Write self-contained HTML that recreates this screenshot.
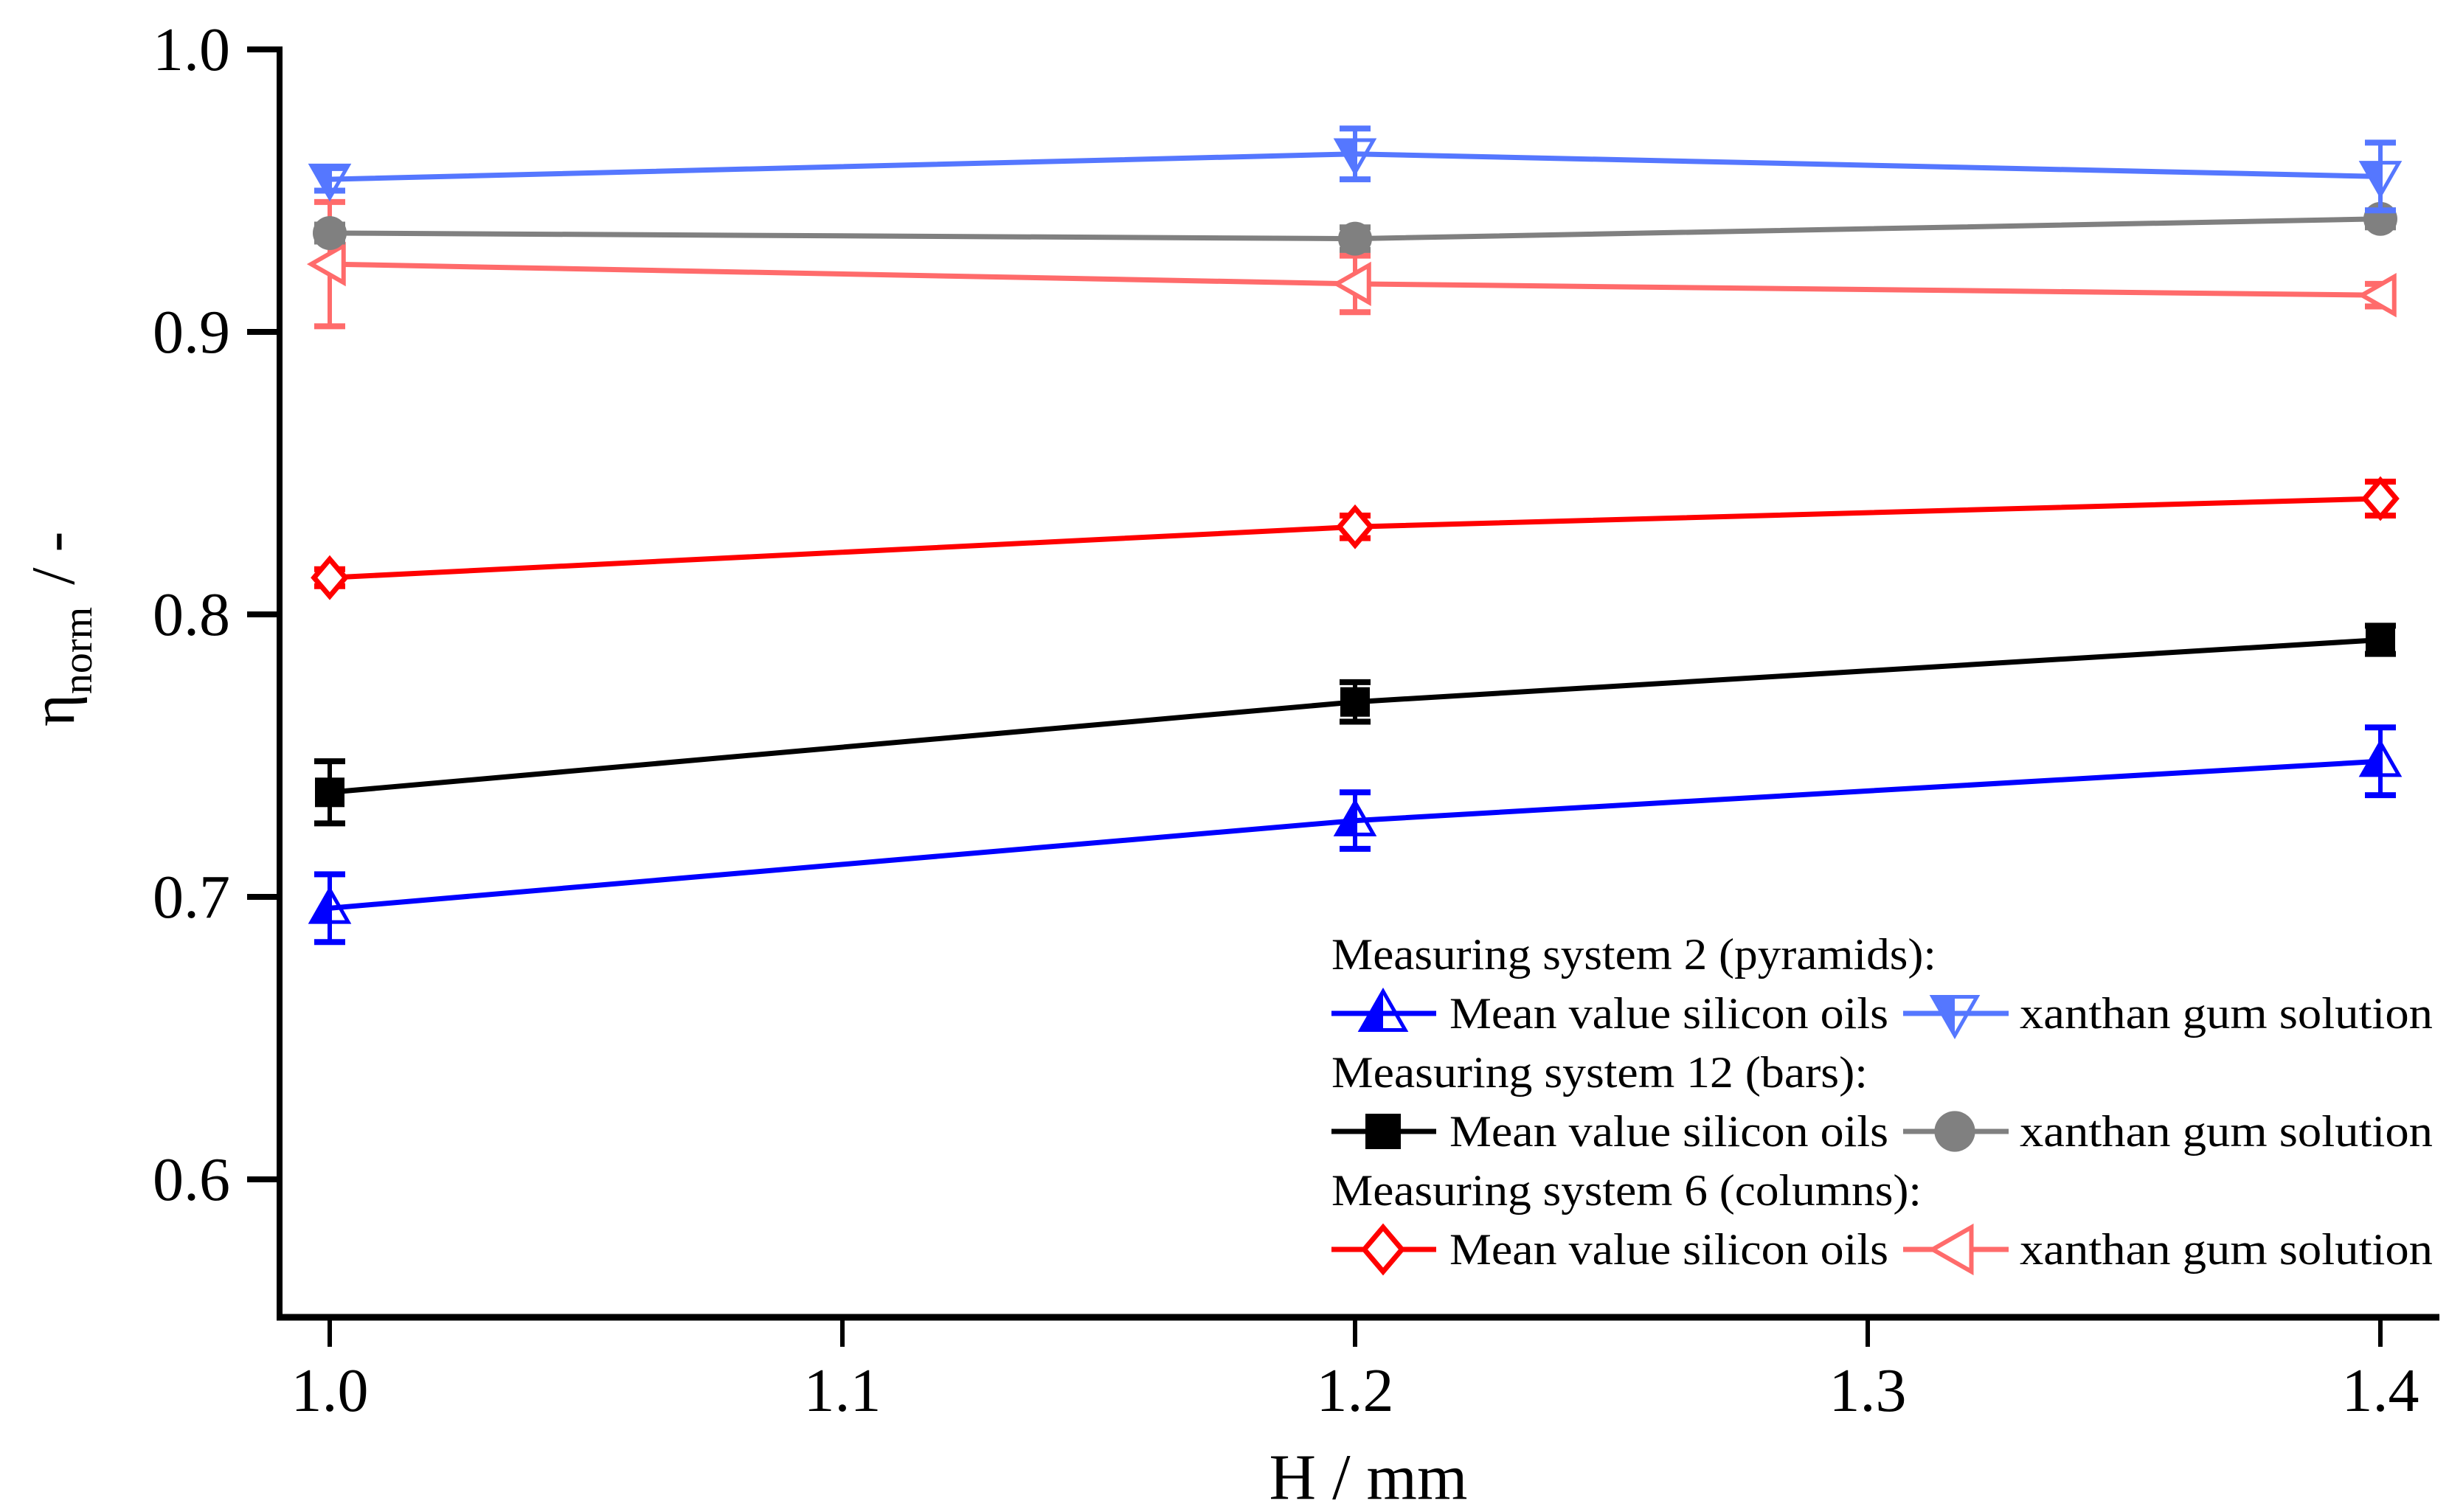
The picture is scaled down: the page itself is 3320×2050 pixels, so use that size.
<!DOCTYPE html>
<html><head><meta charset="utf-8"><style>
html,body{margin:0;padding:0;background:#fff;}
svg{display:block;font-family:"Liberation Serif",serif;}
</style></head><body>
<svg id="chart" width="3320" height="2050" viewBox="0 0 3320 2050" xmlns="http://www.w3.org/2000/svg"></svg>
<script>
const xValues = [1.0, 1.2, 1.4];
const xTicks = [1.0, 1.1, 1.2, 1.3, 1.4];
const xTickLabels = ["1.0", "1.1", "1.2", "1.3", "1.4"];
const yTicks = [0.6, 0.7, 0.8, 0.9, 1.0];
const yTickLabels = ["0.6", "0.7", "0.8", "0.9", "1.0"];
const sys2Oil = [0.696, 0.727, 0.748];
const sys2OilErr = [0.012, 0.010, 0.012];
const sys2Xan = [0.954, 0.963, 0.955];
const sys2XanErr = [0.004, 0.009, 0.012];
const sys12Oil = [0.737, 0.769, 0.791];
const sys12OilErr = [0.011, 0.007, 0.005];
const sys12Xan = [0.935, 0.933, 0.940];
const sys12XanErr = [0.003, 0.004, 0.003];
const sys6Oil = [0.813, 0.831, 0.841];
const sys6OilErr = [0.003, 0.004, 0.006];
const sys6Xan = [0.924, 0.917, 0.913];
const sys6XanErr = [0.022, 0.010, 0.004];

const NS = "http://www.w3.org/2000/svg";
const svg = document.getElementById('chart');
const X0 = 447, XS = 6950;
const Y0 = 67, YS = 3830;
const xs = v => X0 + (v - 1.0) * XS;
const ys = v => Y0 + (1.0 - v) * YS;
const AX_LEFT = 379, AX_BOTTOM = 1786, AX_RIGHT = 3307;

function mk(tag, attrs, parent) {
  const e = document.createElementNS(NS, tag);
  for (const k in attrs) e.setAttribute(k, attrs[k]);
  (parent || svg).appendChild(e);
  return e;
}

const axes = mk('g', {});


const yAxis = mk('line', {x1: AX_LEFT, y1: ys(1.0) - 4, x2: AX_LEFT, y2: AX_BOTTOM + 4, stroke: '#000', 'stroke-width': 8}, axes);


const xAxis = mk('line', {x1: AX_LEFT - 4, y1: AX_BOTTOM, x2: AX_RIGHT, y2: AX_BOTTOM, stroke: '#000', 'stroke-width': 9}, axes);



yTicks.forEach((v, i) => {
  const t = mk('line', {x1: AX_LEFT - 44, y1: ys(v), x2: AX_LEFT, y2: ys(v), stroke: '#000', 'stroke-width': 8}, axes);
  
  
  const l = mk('text', {x: 312, y: ys(v) + 28, 'text-anchor': 'end', 'font-size': 84, fill: '#000'}, axes);
  l.textContent = yTickLabels[i];
  
  
});
xTicks.forEach((v, i) => {
  const t = mk('line', {x1: xs(v), y1: AX_BOTTOM, x2: xs(v), y2: AX_BOTTOM + 40, stroke: '#000', 'stroke-width': 6}, axes);
  
  
  const l = mk('text', {x: xs(v), y: 1913, 'text-anchor': 'middle', 'font-size': 84, fill: '#000'}, axes);
  l.textContent = xTickLabels[i];
  
  
});

const xt = mk('text', {x: 1855, y: 2032, 'text-anchor': 'middle', 'font-size': 88, fill: '#000'});
xt.textContent = 'H / mm';



const yt = mk('text', {transform: 'translate(100,985) rotate(-90)', 'font-size': 84, fill: '#000'});


const t1 = mk('tspan', {}, yt); t1.textContent = 'η';
const t2 = mk('tspan', {dy: 24, 'font-size': 56}, yt); t2.textContent = 'norm';
const t3 = mk('tspan', {dy: -24, dx: 30}, yt); t3.textContent = '/ -';

function marker(type, cx, cy, color, parent, r) {
  r = r || 25;
  const g = mk('g', {}, parent);
  if (type === 'up') {
    mk('polygon', {points: `${cx},${cy - r} ${cx - r},${cy + r * 0.75} ${cx},${cy + r * 0.75}`, fill: color}, g);
    mk('polygon', {points: `${cx},${cy - r} ${cx - r},${cy + r * 0.75} ${cx + r},${cy + r * 0.75}`, fill: 'none', stroke: color, 'stroke-width': 5}, g);
  } else if (type === 'down') {
    mk('polygon', {points: `${cx},${cy + r} ${cx - r},${cy - r * 0.75} ${cx},${cy - r * 0.75}`, fill: color}, g);
    mk('polygon', {points: `${cx},${cy + r} ${cx - r},${cy - r * 0.75} ${cx + r},${cy - r * 0.75}`, fill: 'none', stroke: color, 'stroke-width': 5}, g);
  } else if (type === 'square') {
    mk('rect', {x: cx - r * 0.8, y: cy - r * 0.8, width: r * 1.6, height: r * 1.6, fill: color}, g);
  } else if (type === 'circle') {
    mk('circle', {cx: cx, cy: cy, r: r * 0.92, fill: color}, g);
  } else if (type === 'diamond') {
    mk('polygon', {points: `${cx},${cy - r} ${cx + r * 0.85},${cy} ${cx},${cy + r} ${cx - r * 0.85},${cy}`, fill: '#fff', stroke: color, 'stroke-width': 7}, g);
  } else if (type === 'left') {
    mk('polygon', {points: `${cx - r},${cy} ${cx + r * 0.75},${cy - r} ${cx + r * 0.75},${cy + r}`, fill: '#fff', stroke: color, 'stroke-width': 6}, g);
  }
  return g;
}

const seriesList = [
  {name: 'series-sys6-xanthan', vals: sys6Xan, err: sys6XanErr, color: '#ff6b6b', type: 'left'},
  {name: 'series-sys12-xanthan', vals: sys12Xan, err: sys12XanErr, color: '#808080', type: 'circle'},
  {name: 'series-sys2-xanthan', vals: sys2Xan, err: sys2XanErr, color: '#5577ff', type: 'down'},
  {name: 'series-sys6-oil', vals: sys6Oil, err: sys6OilErr, color: '#ff0000', type: 'diamond'},
  {name: 'series-sys12-oil', vals: sys12Oil, err: sys12OilErr, color: '#000000', type: 'square'},
  {name: 'series-sys2-oil', vals: sys2Oil, err: sys2OilErr, color: '#0000ff', type: 'up'},
];

seriesList.forEach(s => {
  const g = mk('g', {});
  
  
  const pts = xValues.map((x, i) => `${xs(x)},${ys(s.vals[i])}`).join(' ');
  const ln = mk('polyline', {points: pts, fill: 'none', stroke: s.color, 'stroke-width': 7}, g);
  
  
  xValues.forEach((x, i) => {
    const cx = xs(x), top = ys(s.vals[i] + s.err[i]), bot = ys(s.vals[i] - s.err[i]);
    const eb = mk('g', {stroke: s.color, 'stroke-width': 6}, g);
    
    
    mk('line', {x1: cx, y1: top, x2: cx, y2: bot}, eb);
    mk('line', {x1: cx - 21, y1: top, x2: cx + 21, y2: top, 'stroke-width': 8}, eb);
    mk('line', {x1: cx - 21, y1: bot, x2: cx + 21, y2: bot, 'stroke-width': 8}, eb);
    const m = marker(s.type, cx, ys(s.vals[i]), s.color, g);
    
    
  });
});

const leg = mk('g', {});


const LX = 1805, FS = 60;
const headers = ['Measuring system 2 (pyramids):', 'Measuring system 12 (bars):', 'Measuring system 6 (columns):'];
const headerY = [1314, 1474, 1634];
const rowY = [1394, 1554, 1714];
const rowDefs = [
  [{c: '#0000ff', t: 'up'}, {c: '#5577ff', t: 'down'}],
  [{c: '#000000', t: 'square'}, {c: '#808080', t: 'circle'}],
  [{c: '#ff0000', t: 'diamond'}, {c: '#ff6b6b', t: 'left'}],
];
headers.forEach((h, i) => {
  const ht = mk('text', {x: LX, y: headerY[i], 'font-size': FS, fill: '#000', textLength: [820, 727, 800][i], lengthAdjust: 'spacingAndGlyphs'}, leg);
  ht.textContent = h;
  
  
  const cy = rowY[i] - 20;
  const e1 = mk('g', {}, leg);
  
  
  mk('line', {x1: LX, y1: cy, x2: LX + 142, y2: cy, stroke: rowDefs[i][0].c, 'stroke-width': 7}, e1);
  marker(rowDefs[i][0].t, LX + 70, cy, rowDefs[i][0].c, e1, 30);
  const tx1 = mk('text', {x: LX + 160, y: rowY[i], 'font-size': FS, fill: '#000', textLength: 595, lengthAdjust: 'spacingAndGlyphs'}, e1);
  tx1.textContent = 'Mean value silicon oils';
  const e2 = mk('g', {}, leg);
  
  
  mk('line', {x1: LX + 775, y1: cy, x2: LX + 918, y2: cy, stroke: rowDefs[i][1].c, 'stroke-width': 7}, e2);
  marker(rowDefs[i][1].t, LX + 845, cy, rowDefs[i][1].c, e2, 30);
  const tx2 = mk('text', {x: LX + 933, y: rowY[i], 'font-size': FS, fill: '#000', textLength: 560, lengthAdjust: 'spacingAndGlyphs'}, e2);
  tx2.textContent = 'xanthan gum solution';
});
</script>
</body></html>
